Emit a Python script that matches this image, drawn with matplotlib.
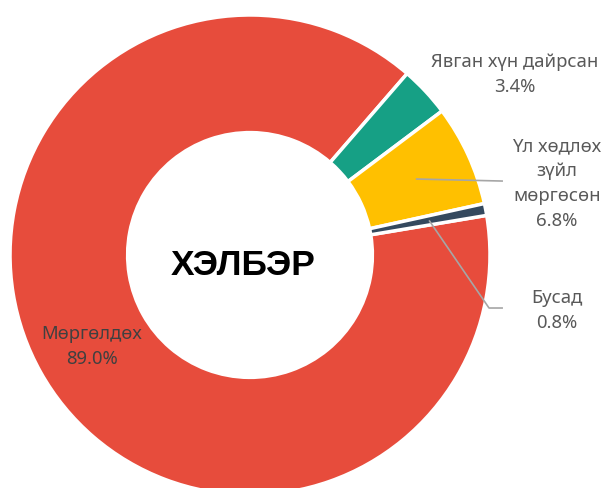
import numpy as np
import matplotlib
matplotlib.use('Agg')
import matplotlib.pyplot as plt

plt.rcParams['font.family'] = ['Noto Sans', 'DejaVu Sans']

# Data
categories = ['Мөргөлдөх', 'Явган хүн дайрсан', 'Үл хөдлөх\nзүйл\nмөргөсөн', 'Бусад']
shares = [89.0, 3.4, 6.8, 0.8]
colors = ['#E74C3C', '#16A085', '#FFC000', '#34495E']
center_title = 'ХЭЛБЭР'

fig = plt.figure(figsize=(6.04, 4.88), dpi=100)
ax = fig.add_axes([0, 0, 1, 1])

wedges, _ = ax.pie(shares, colors=colors, startangle=9.5, counterclock=False,
                   radius=1.0, wedgeprops=dict(width=0.49, edgecolor='white', linewidth=2.5))

ax.set_xlim(-1.0417, 1.475)
ax.set_ylim(-0.971, 1.0625)
ax.axis('off')

def mid(w, r):
    a = np.deg2rad((w.theta1 + w.theta2) / 2)
    return r * np.cos(a), r * np.sin(a)

label_fmt = '{}\n{:.1f}%'
lbl_kw = dict(ha='center', va='center', fontsize=13.3, color='#595959', linespacing=1.5)

# Мөргөлдөх label inside the ring
ax.text(-0.658, -0.381, label_fmt.format(categories[0], shares[0]), **dict(lbl_kw, color='#404040'))
# Явган хүн дайрсан
ax.text(1.104, 0.75, label_fmt.format(categories[1], shares[1]), **lbl_kw)
# Үл хөдлөх зүйл мөргөсөн
ax.text(1.279, 0.296, label_fmt.format(categories[2], shares[2]), **lbl_kw)
# Бусад
ax.text(1.279, -0.231, label_fmt.format(categories[3], shares[3]), **lbl_kw)

# leader lines
line_kw = dict(color='#A6A6A6', linewidth=1.2, solid_capstyle='butt')
x0, y0 = mid(wedges[2], 0.76)
ax.plot([x0, 1.054], [y0, 0.308], **line_kw)
x0, y0 = mid(wedges[3], 0.76)
ax.plot([x0, 0.996, 1.054], [y0, -0.221, -0.221], **line_kw)

ax.text(-0.029, -0.045, center_title, ha='center', va='center', fontsize=25.5,
        fontweight='bold', family=['Liberation Sans', 'DejaVu Sans'], color='black')

fig.savefig('out.png', dpi=100)
